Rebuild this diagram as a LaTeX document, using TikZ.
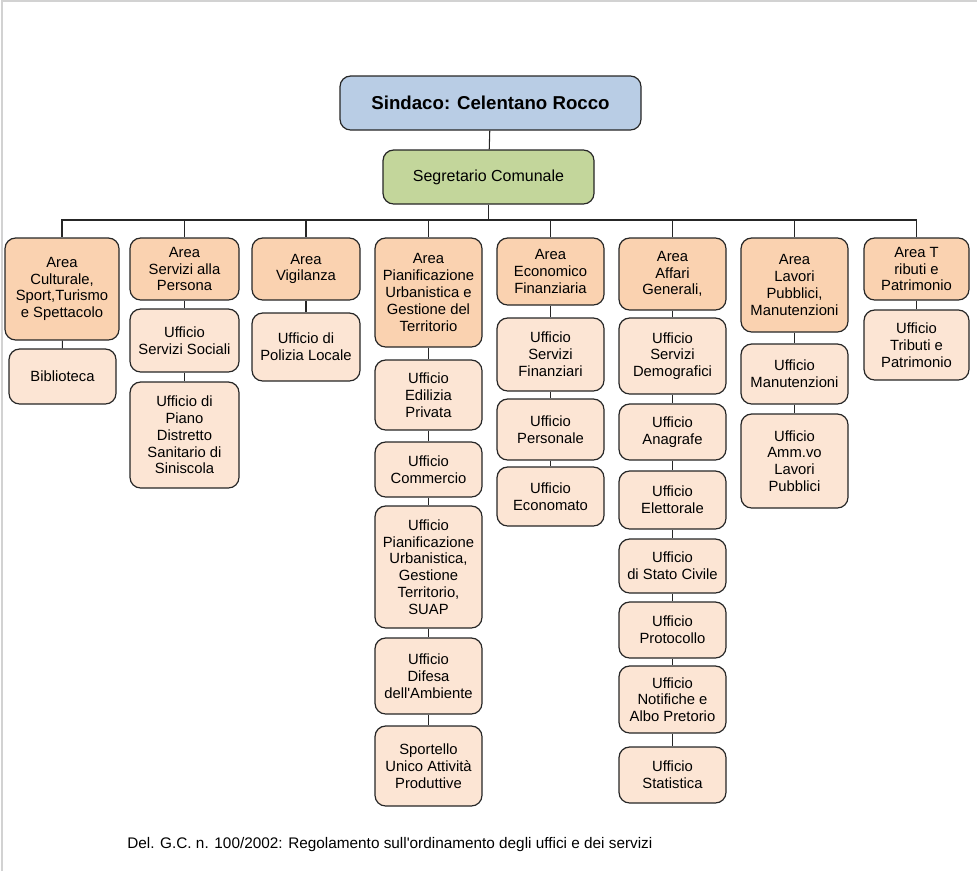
\documentclass[tikz,border=0pt]{standalone}
\usepackage{fontspec}
\setmainfont{Liberation Sans}
\definecolor{sindblue}{HTML}{B9CDE5}
\definecolor{segrgreen}{HTML}{C3D69B}
\definecolor{areaorange}{HTML}{FAD2B0}
\definecolor{uffpeach}{HTML}{FCE5D4}
\definecolor{boxline}{HTML}{262626}
\begin{document}
\begin{tikzpicture}[x=0.75pt,y=-0.75pt,
  box/.style 2 args={draw=boxline,line width=0.9pt,rounded corners=8pt,align=center,
    inner sep=1pt,minimum width=#1*0.75pt,minimum height=#2*0.75pt,
    font=\fontsize{11.1}{12.6}\selectfont},
  area/.style={fill=areaorange},
  uff/.style={fill=uffpeach},
  wire/.style={draw=boxline,line width=0.8pt}]
  \useasboundingbox (0,0) rectangle (977,871);
  \draw[gray!35,line width=1.5pt] (2,871) -- (2,1) -- (977,1);

  % vertice
  \node[box={301}{54},fill=sindblue,font=\bfseries\fontsize{14}{16}\selectfont] (sindaco) at (490.5,103) {Sindaco: Celentano Rocco};
  \node[box={211}{54},fill=segrgreen,font=\fontsize{12}{14}\selectfont] (segretario) at (488.5,177) {Segretario Comunale};
  \coordinate (bus) at (488.5,220);

  % aree
  \node[box={114}{102},area] (cult) at (62,289) {Area\\Culturale,\\Sport,Turismo\\e Spettacolo};
  \node[box={109}{62},area] (pers) at (184.5,269) {Area\\Servizi alla\\Persona};
  \node[box={108}{62},area] (vig) at (306,269) {Area\\Vigilanza};
  \node[box={107}{109},area] (pian) at (428.5,292.5) {Area\\Pianificazione\\Urbanistica e\\Gestione del\\Territorio};
  \node[box={107}{67},area] (econ) at (550.5,271.5) {Area\\Economico\\Finanziaria};
  \node[box={107}{72},area] (affari) at (672.5,274) {Area\\Affari\\Generali,};
  \node[box={107}{94},area] (lavori) at (794.5,285) {Area\\Lavori\\Pubblici,\\Manutenzioni};
  \node[box={105}{62},area] (tributi) at (916.5,269) {Area T\\ributi e\\Patrimonio};

  % uffici
  \node[box={107}{55},uff] (bibl) at (62.5,376.5) {Biblioteca};

  \node[box={109}{63},uff] (sociali) at (184.5,340.5) {Ufficio\\Servizi Sociali};
  \node[box={109}{106},uff] (piano) at (184.5,435) {Ufficio di\\Piano\\Distretto\\Sanitario di\\Siniscola};

  \node[box={108}{68},uff] (polizia) at (306,347) {Ufficio di\\Polizia Locale};

  \node[box={107}{70},uff] (edilizia) at (428.5,395) {Ufficio\\Edilizia\\Privata};
  \node[box={107}{55},uff] (commercio) at (428.5,469.5) {Ufficio\\Commercio};
  \node[box={107}{122},uff] (urbanistica) at (428.5,567) {Ufficio\\Pianificazione\\Urbanistica,\\Gestione\\Territorio,\\SUAP};
  \node[box={107}{76},uff] (ambiente) at (428.5,676) {Ufficio\\Difesa\\dell\textquotesingle Ambiente};
  \node[box={107}{80},uff] (sportello) at (428.5,766) {Sportello\\Unico Attività\\Produttive};

  \node[box={107}{73},uff] (finanziari) at (550.5,354.5) {Ufficio\\Servizi\\Finanziari};
  \node[box={107}{61},uff] (personale) at (550.5,429.5) {Ufficio\\Personale};
  \node[box={107}{59},uff] (economato) at (550.5,496.5) {Ufficio\\Economato};

  \node[box={107}{76},uff] (demografici) at (672.5,356) {Ufficio\\Servizi\\Demografici};
  \node[box={107}{56},uff] (anagrafe) at (672.5,432) {Ufficio\\Anagrafe};
  \node[box={107}{58},uff] (elettorale) at (672.5,500) {Ufficio\\Elettorale};
  \node[box={107}{54},uff] (civile) at (672.5,566) {Ufficio\\di Stato Civile};
  \node[box={107}{56},uff] (protocollo) at (672.5,630) {Ufficio\\Protocollo};
  \node[box={107}{67},uff] (notifiche) at (672.5,699.5) {Ufficio\\Notifiche e\\Albo Pretorio};
  \node[box={107}{56},uff] (statistica) at (672.5,775) {Ufficio\\Statistica};

  \node[box={107}{60},uff] (manutenzioni) at (794.5,374) {Ufficio\\Manutenzioni};
  \node[box={107}{94},uff] (ammvo) at (794.5,461) {Ufficio\\Amm.vo\\Lavori\\Pubblici};

  \node[box={105}{70},uff] (ufftributi) at (916.5,345) {Ufficio\\Tributi e\\Patrimonio};

  % collegamenti
  \draw[wire] (sindaco) -- (segretario);
  \draw[wire] (segretario) -- (bus);
  \foreach \a in {cult,pers,vig,pian,econ,affari,lavori,tributi}
    \draw[wire] (bus) -| (\a.north);
  \draw[wire] (cult) -- (bibl);
  \draw[wire] (pers) -- (sociali) -- (piano);
  \draw[wire] (vig) -- (polizia);
  \draw[wire] (pian) -- (edilizia) -- (commercio) -- (urbanistica) -- (ambiente) -- (sportello);
  \draw[wire] (econ) -- (finanziari) -- (personale) -- (economato);
  \draw[wire] (affari) -- (demografici) -- (anagrafe) -- (elettorale) -- (civile) -- (protocollo) -- (notifiche) -- (statistica);
  \draw[wire] (lavori) -- (manutenzioni) -- (ammvo);
  \draw[wire] (tributi) -- (ufftributi);

  \node[anchor=west,inner sep=0pt,font=\fontsize{11.5}{13}\selectfont] (nota) at (127,845) {Del. G.C. n. 100/2002: Regolamento sull\textquotesingle ordinamento degli uffici e dei servizi};
\end{tikzpicture}
\end{document}
